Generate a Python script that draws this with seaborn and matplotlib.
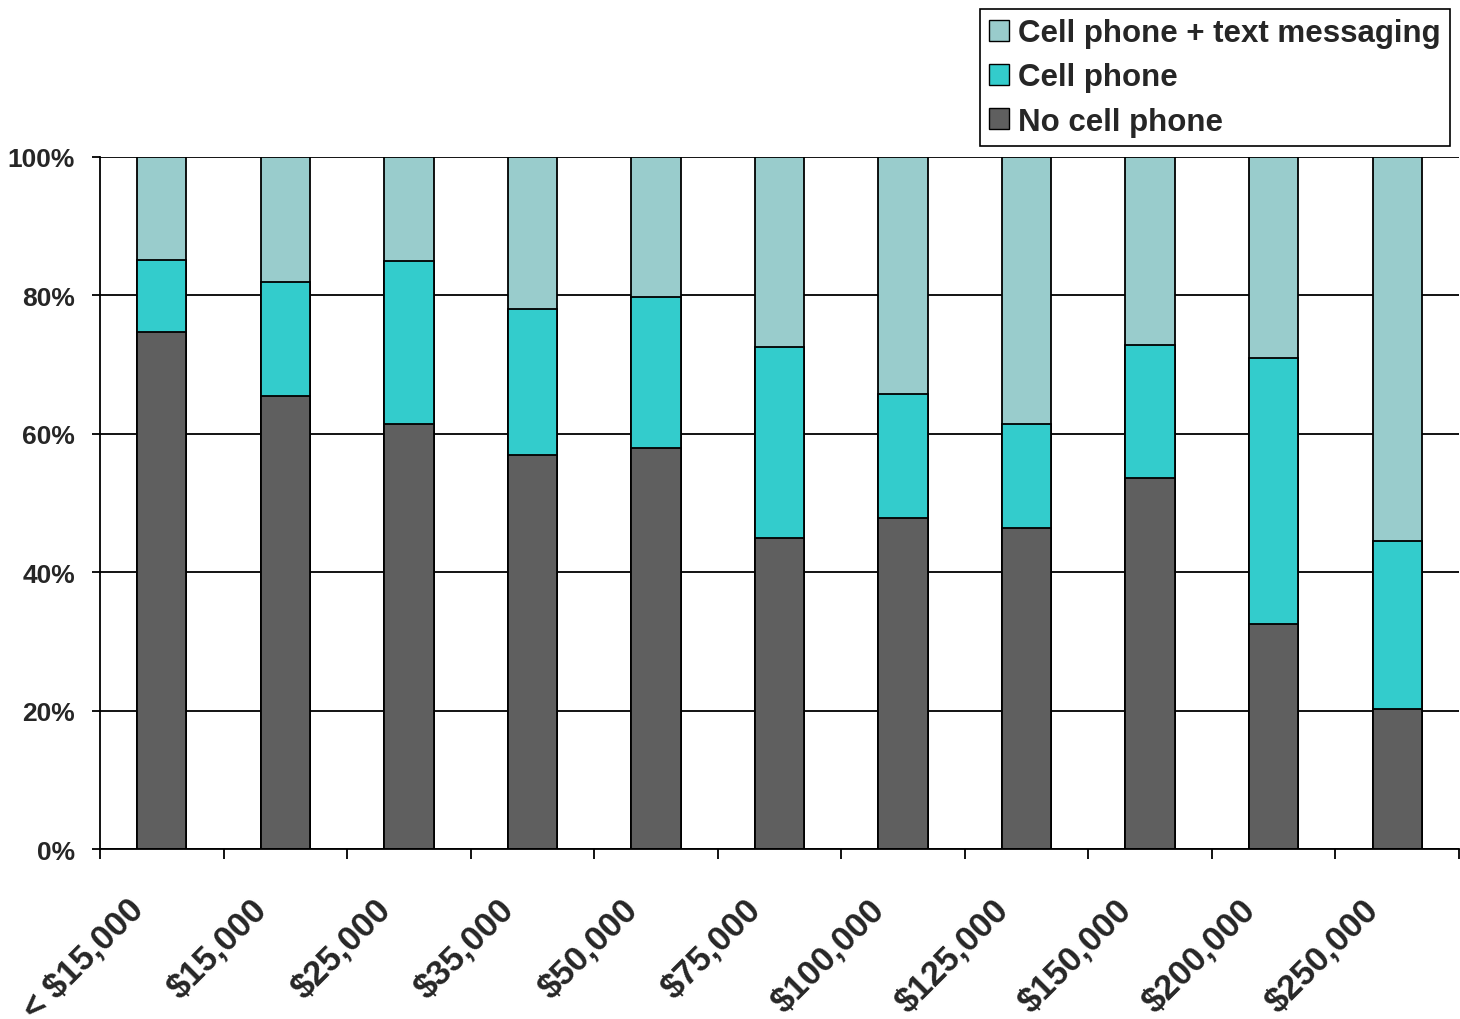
import matplotlib
matplotlib.use("Agg")
import matplotlib.pyplot as plt
import matplotlib.transforms as mtransforms
from matplotlib.patches import Patch
import numpy as np
import pandas as pd
import seaborn as sns

# Household income brackets
categories = ["< $15,000", "$15,000", "$25,000", "$35,000", "$50,000", "$75,000",
              "$100,000", "$125,000", "$150,000", "$200,000", "$250,000"]

# Share of respondents (%) in each group
no_cell_phone = [74.7, 65.4, 61.4, 57.0, 57.9, 44.9, 47.8, 46.4, 53.6, 32.5, 20.2]
cell_phone = [10.4, 16.5, 23.5, 21.0, 21.9, 27.6, 18.0, 15.0, 19.2, 38.5, 24.3]
cell_phone_text = [14.9, 18.1, 15.1, 22.0, 20.2, 27.5, 34.2, 38.6, 27.2, 29.0, 55.5]

series_names = ["No cell phone", "Cell phone", "Cell phone + text messaging"]
series_colors = ["#5f5f5f", "#33cccc", "#99cccc"]

sns.set_theme(style="white")
plt.rcParams["font.family"] = ["Liberation Sans", "DejaVu Sans"]
plt.rcParams["font.weight"] = "bold"

df = pd.DataFrame({
    "income": categories,
    "no_cell": no_cell_phone,
    "cell": cell_phone,
    "text": cell_phone_text,
})
df["top_cell"] = df["no_cell"] + df["cell"]
df["top_text"] = df["top_cell"] + df["text"]

fig = plt.figure(figsize=(14.6, 10.2), dpi=100)
ax = fig.add_axes([100 / 1460, 1 - 850 / 1020, 1359 / 1460, (850 - 158) / 1020])

ax.set_axisbelow(True)
ax.yaxis.grid(True, color="black", linewidth=1.3)
ax.xaxis.grid(False)

# Stacked bars: draw cumulative totals from the top layer down
for col, color in [("top_text", series_colors[2]),
                   ("top_cell", series_colors[1]),
                   ("no_cell", series_colors[0])]:
    sns.barplot(data=df, x="income", y=col, color=color, width=0.4,
                edgecolor="black", linewidth=1.3, saturation=1, ax=ax,
                order=categories)

ax.set_xlim(-0.5, len(categories) - 0.5)
ax.set_ylim(0, 100)
ax.set_xlabel("")
ax.set_ylabel("")

# Y axis
ax.set_yticks(np.arange(0, 101, 20))
ax.set_yticklabels([f"{v}%" for v in range(0, 101, 20)], fontsize=19,
                   fontweight="bold")
ax.tick_params(axis="y", direction="out", length=6, width=1.3, color="black",
               pad=12, left=True)

# X axis: tick marks at bracket boundaries, labels at bar centers
ax.set_xticks(np.arange(-0.5, len(categories), 1.0))
ax.set_xticklabels([])
ax.tick_params(axis="x", which="major", direction="out", length=7, width=1.3,
               color="black", bottom=True)
ax.set_xticks(np.arange(len(categories)), minor=True)
ax.set_xticklabels(categories, minor=True, rotation=45, ha="right",
                   fontsize=25, fontweight="bold")
ax.tick_params(axis="x", which="minor", length=0, pad=31)
shift = mtransforms.ScaledTranslation(-12 / 100, 0, fig.dpi_scale_trans)
for lbl in ax.get_xticklabels(minor=True):
    lbl.set_transform(lbl.get_transform() + shift)

for side in ["top", "right"]:
    ax.spines[side].set_visible(False)
for side in ["left", "bottom"]:
    ax.spines[side].set_color("black")
    ax.spines[side].set_linewidth(1.3)

handles = [Patch(facecolor=series_colors[i], edgecolor="black", linewidth=1.0,
                 label=series_names[i]) for i in (2, 1, 0)]
leg = fig.legend(handles=handles, loc="upper right",
                 bbox_to_anchor=(1450 / 1460, 1 - 10 / 1020),
                 prop={"weight": "bold", "size": 22.5}, frameon=True,
                 fancybox=False, edgecolor="black", framealpha=1,
                 handlelength=0.62, handleheight=0.62, handletextpad=0.3,
                 labelspacing=0.45, borderpad=0.3, borderaxespad=0)
leg.get_frame().set_linewidth(1.2)

fig.savefig("out.png", dpi=100, facecolor="white")
